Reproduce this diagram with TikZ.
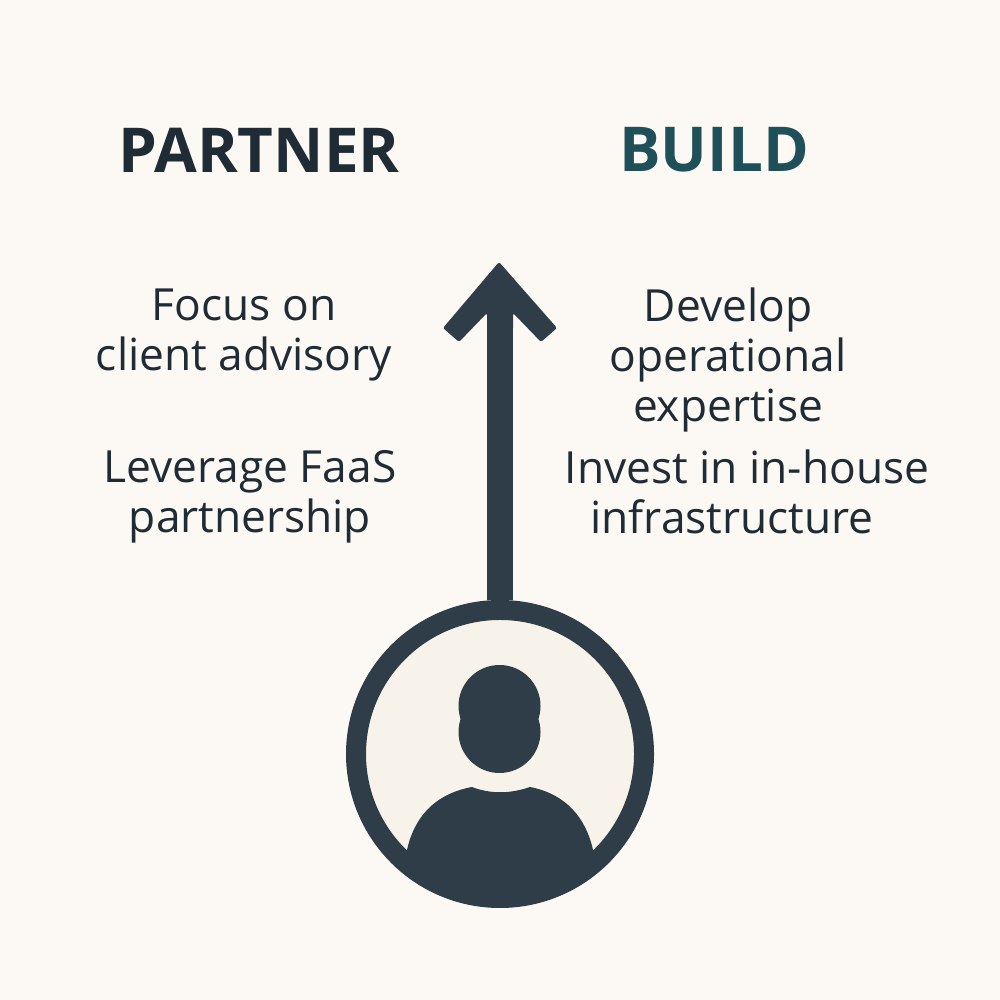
\documentclass[tikz,border=0pt]{standalone}
\usepackage{fontspec}
\setmainfont{Open Sans}
\usepackage{tikz}
\definecolor{paper}{HTML}{FCF9F4}
\definecolor{cream}{HTML}{F7F3EA}
\definecolor{slate}{HTML}{2E3D48}
\definecolor{ink}{HTML}{1F2B35}
\definecolor{teal}{HTML}{1F4F58}

\begin{document}
\begin{tikzpicture}[
        heading/.style={font=\fontsize{17.6}{20}\selectfont\bfseries, inner sep=0pt},
        point/.style={font=\fontsize{12.6}{14.2}\selectfont, text=ink, align=center, inner sep=0pt},
        ring/.style={circle, draw=slate, fill=cream, line width=0.2cm, minimum size=2.88cm, inner sep=0pt},
        figure/.style={fill=slate}
    ]
        % Background
        \fill[paper] (0, 0) rectangle (10, 10);

        % Headings
        \node[heading, text=ink] (partner) at (2.59, 8.5) {PARTNER};
        \node[heading, text=teal] (build) at (7.14, 8.5) {BUILD};

        % Left column
        \node[point] (advisory) at (2.44, 6.65) {Focus on\\client advisory};
        \node[point] (faas) at (2.5, 5.03) {Leverage FaaS\\partnership};

        % Right column
        \node[point] (expertise) at (7.28, 6.4) {Develop\\operational\\expertise};
        \node[point] (invest) at (7.47, 5.33) {Invest in in-house};
        \node[point] (infra) at (7.32, 4.83) {infrastructure};

        % Person
        \node[ring] (person) at (5, 2.46) {};

        % Arrow
        \coordinate (neck) at (5, 6.8);
        \draw[slate, line width=0.26cm] (person.north) -- (neck);
        \fill[slate, rounded corners=0.6pt] (4.99, 7.38) -- (5.57, 6.72) -- (5.41, 6.58) -- (5.13, 6.87)
            -- (5.13, 6.7) -- (4.87, 6.7) -- (4.87, 6.87) -- (4.59, 6.58) -- (4.43, 6.72) -- cycle;

        % Head and shoulders
        \fill[figure] (4.995, 2.94) circle (0.41);
        \fill[figure] (4.995, 2.68) circle (0.41);
        \begin{scope}
            \clip (5, 2.46) circle (1.44);
            \fill[figure] (4.07, 1) -- (4.07, 1.5) .. controls (4.14, 1.82) and (4.34, 2.06) .. (4.72, 2.13)
                .. controls (4.9, 2.06) and (5.1, 2.06) .. (5.3, 2.13)
                .. controls (5.66, 2.06) and (5.86, 1.82) .. (5.93, 1.5) -- (5.93, 1) -- cycle;
        \end{scope}
    \end{tikzpicture}
\end{document}
